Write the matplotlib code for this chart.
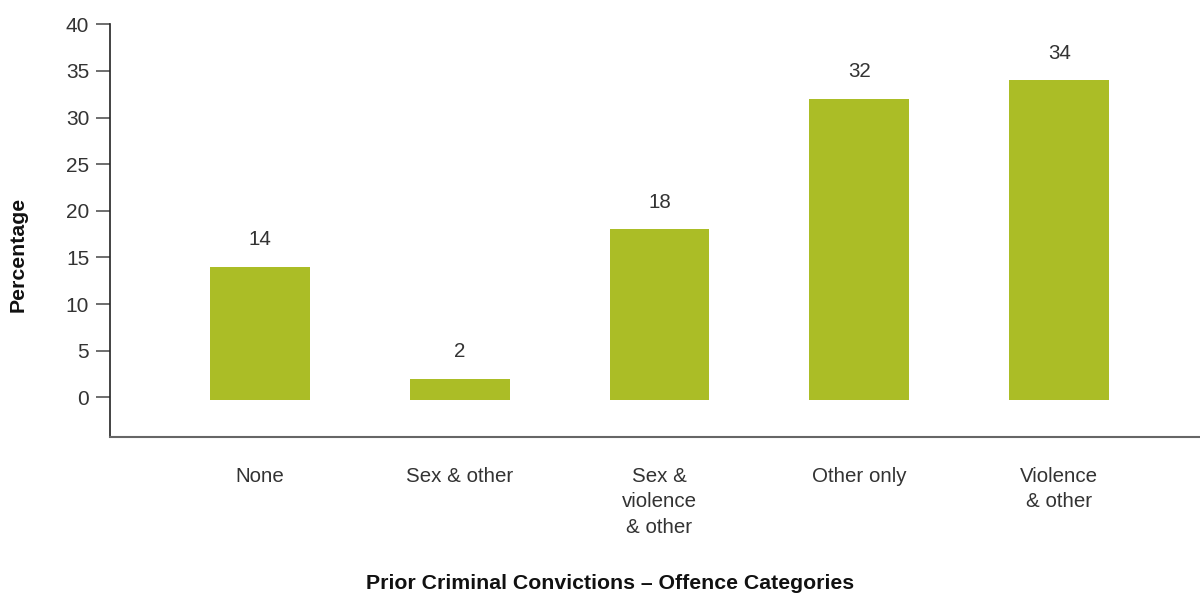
import matplotlib
matplotlib.use("Agg")
import matplotlib.pyplot as plt

categories = ["None", "Sex & other", "Sex &\nviolence\n& other", "Other only", "Violence\n& other"]
percentages = [14, 2, 18, 32, 34]
yticks = [0, 5, 10, 15, 20, 25, 30, 35, 40]

bar_color = "#abbd26"
text_color = "#333333"

plt.rcParams["font.family"] = ["Liberation Sans", "DejaVu Sans"]

fig = plt.figure(figsize=(12, 5.94), dpi=100)
ax = fig.add_axes([110 / 1200, 1 - 436.5 / 594, 1 - 110 / 1200, (436.5 - 24.3) / 594])

x = list(range(len(categories)))
base = -0.3
ax.bar(x, [v - base for v in percentages], bottom=base, width=0.5, color=bar_color, zorder=2)

for xi, v in zip(x, percentages):
    ax.text(xi, v + 2.9, str(v), ha="center", va="center", fontsize=14.8, color=text_color)

ax.set_xlim(-0.75, 4.705)
ax.set_ylim(-4.2, 40)
ax.set_yticks(yticks)
ax.set_yticklabels([str(t) for t in yticks], fontsize=15, color=text_color)
ax.tick_params(axis="y", length=10, width=1.2, color="#555555", pad=5)

ax.set_xticks(x)
ax.set_xticklabels(categories, fontsize=14.8, color=text_color, linespacing=1.42, va="top")
ax.tick_params(axis="x", length=0, pad=22)

for side in ("top", "right"):
    ax.spines[side].set_visible(False)
ax.spines["left"].set_color("#222222")
ax.spines["left"].set_linewidth(1.2)
ax.spines["bottom"].set_color("#666666")
ax.spines["bottom"].set_linewidth(1.5)

fig.text(610 / 1200, 1 - 583.5 / 594, "Prior Criminal Convictions \u2013 Offence Categories",
         ha="center", va="center", fontsize=15.3, fontweight="bold", color="#111111")
fig.text(18 / 1200, 1 - 254 / 594, "Percentage", ha="center", va="center", rotation=90,
         fontsize=15.3, fontweight="bold", color="#111111")

fig.savefig("out.png", dpi=100)
